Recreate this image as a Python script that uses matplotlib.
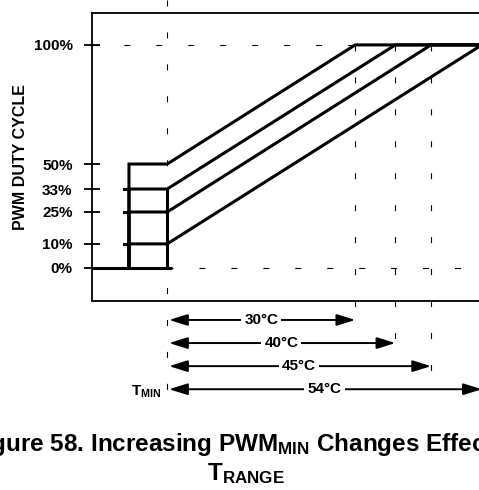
import matplotlib
matplotlib.use("Agg")
import matplotlib.pyplot as plt

plt.rcParams["font.family"] = ["Liberation Sans", "DejaVu Sans"]
plt.rcParams["font.weight"] = "bold"
plt.rcParams["mathtext.fontset"] = "custom"
plt.rcParams["mathtext.rm"] = "Liberation Sans:bold"
plt.rcParams["mathtext.it"] = "Liberation Sans:bold"
plt.rcParams["mathtext.bf"] = "Liberation Sans:bold"
plt.rcParams["lines.scale_dashes"] = False

# drawn positions (schematic, not to scale): x in "degrees after T_MIN", y in "% as drawn"
pwm_min_labels = ["50%", "33%", "25%", "10%"]
pwm_min_drawn = [46.6, 35.4, 25.1, 10.8]
trange_labels = ["30°C", "40°C", "45°C", "54°C"]
trange_drawn = [30.0, 36.4, 42.1, 50.2]
ytick_labels = ["0%", "10%", "25%", "33%", "50%", "100%"]
ytick_pos = [0, 10.8, 25.1, 35.4, 46.6, 100]
step_x = -6.1

XLIM = (-12.0, 53.1)
YLIM = (-14.8, 114.3)
DASH = (0, (4.3, 18.7))
FS = 11

fig = plt.figure(figsize=(4.79, 4.90), dpi=100)
ax = fig.add_axes([92 / 479, (490 - 301) / 490, 408 / 479, 288 / 490])
ax.set_xlim(XLIM)
ax.set_ylim(YLIM)
for s in ax.spines.values():
    s.set_linewidth(1.3)

lw = 2.2
# baseline and hysteresis edge at T_MIN
ax.plot([XLIM[0], 0.8], [0, 0], color="black", lw=lw, solid_capstyle="butt")
ax.plot([0, 0], [0, pwm_min_drawn[1]], color="black", lw=lw)
for i, (lvl, end) in enumerate(zip(pwm_min_drawn, trange_drawn)):
    x0 = step_x if i == 0 else step_x - 0.8
    ax.plot([step_x, step_x, 0, end, XLIM[1] + 5], [0, lvl, lvl, 100, 100],
            color="black", lw=lw, solid_joinstyle="miter", clip_on=False)
    ax.plot([x0, step_x], [lvl, lvl], color="black", lw=lw)

# dashed guides
ax.plot([XLIM[0], trange_drawn[0]], [100, 100], color="black", lw=0.8, ls=DASH)
ax.plot([0, XLIM[1]], [0, 0], color="black", lw=0.8, ls=DASH)
ax.plot([0, 0], [120.2, -60.5], color="black", lw=0.8, ls=DASH, clip_on=False)

rows = [-23.3 - 10.35 * i for i in range(len(trange_drawn))]
for lab, end, y in zip(trange_labels, trange_drawn, rows):
    ax.plot([end, end], [100, y - 5.5], color="black", lw=0.8, ls=DASH, clip_on=False)
    ax.annotate("", xy=(end, y), xytext=(0.3, y), annotation_clip=False,
                arrowprops=dict(arrowstyle="<|-|>,head_length=0.8,head_width=0.25",
                                mutation_scale=14, lw=1.4, color="black",
                                shrinkA=0, shrinkB=0))
    ax.text(end / 2, y, lab, ha="center", va="center", fontsize=FS,
            fontweight="bold", clip_on=False,
            bbox=dict(boxstyle="square,pad=0.2", fc="white", ec="none"))

ax.text(-1.0, -55.6, r"T$_{\mathrm{MIN}}$", ha="right", va="center",
        fontsize=FS, fontweight="bold", clip_on=False)

ax.set_xticks([])
ax.set_yticks(ytick_pos)
ax.set_yticklabels(ytick_labels, fontsize=FS, fontweight="bold")
ax.tick_params(axis="y", direction="inout", length=12, width=1.3, pad=8)
ax.set_ylabel("PWM DUTY CYCLE", fontsize=11.5, fontweight="bold")
ax.yaxis.set_label_coords(-0.157, 0.5)

fig.text(248 / 479, 39 / 490, r"Figure 58. Increasing PWM$_{\mathrm{MIN}}$ Changes Effective",
         ha="center", va="baseline", fontsize=17.5, fontweight="bold")
fig.text(246 / 479, 10 / 490, r"T$_{\mathrm{RANGE}}$",
         ha="center", va="baseline", fontsize=17.5, fontweight="bold")

fig.savefig("out.png", dpi=100)
